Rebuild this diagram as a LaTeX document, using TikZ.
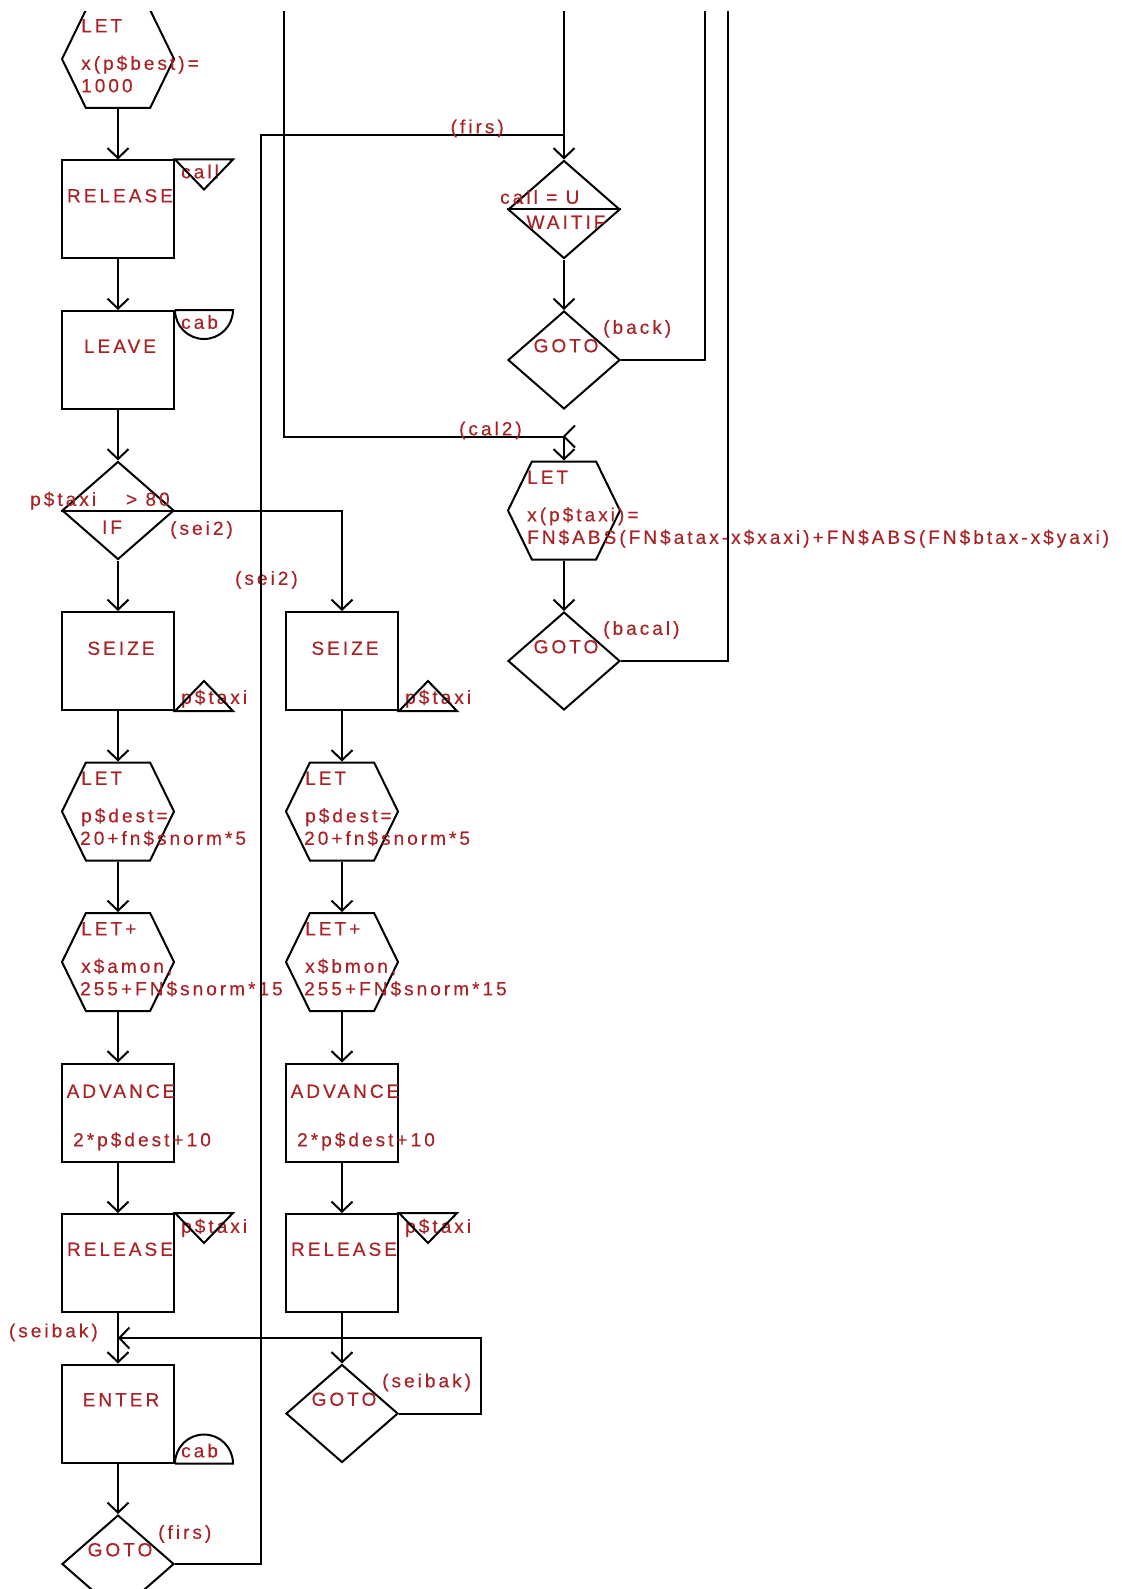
\documentclass[tikz,border=0pt]{standalone}
\usepackage{fontspec}
\newfontfamily\gpssfont{Liberation Sans}[LetterSpace=16, FakeBold=0.4]
\usepackage{tikz}
\usetikzlibrary{arrows.meta,positioning,shapes.geometric,shapes.symbols}
\definecolor{gpred}{HTML}{A82226}

\begin{document}
\begin{tikzpicture}[x=1pt, y=-1pt,
  node distance=50.5pt and 110pt,
  blk/.style={draw, line width=2pt, minimum width=112pt, minimum height=98pt, inner sep=0pt},
  hexa/.style={draw, line width=2pt, signal, signal to=west and east, signal pointer angle=128, minimum width=112pt, minimum height=98pt, inner sep=0pt},
  dia/.style={draw, line width=2pt, diamond, minimum width=112pt, minimum height=98pt, inner sep=0pt},
  txt/.style={text=gpred, font=\gpssfont\fontsize{19}{23}\selectfont, inner sep=0pt, text height=13.6pt, text depth=0pt},
  flow/.style={line width=2pt},
  arrow/.style={flow, -{Straight Barb[length=10pt, width=21pt]}}
]
\useasboundingbox (0,0) rectangle (1121,1589);
\clip (0,12) rectangle (1121,1589);

% left column
\node[hexa] (let1) at (118,59) {};
\node[blk, below=of let1] (rel1) {};
\node[blk, below=of rel1] (leave1) {};
\node[dia, below=of leave1] (if1) {};
\node[blk, below=of if1] (seize1) {};
\node[hexa, below=of seize1] (let2) {};
\node[hexa, below=of let2] (letp1) {};
\node[blk, below=of letp1] (adv1) {};
\node[blk, below=of adv1] (rel2) {};
\node[blk, below=of rel2] (enter1) {};
\node[dia, below=of enter1] (goto1) {};

% sei2 column
\node[blk, right=of seize1] (seize2) {};
\node[hexa, below=of seize2] (let3) {};
\node[hexa, below=of let3] (letp2) {};
\node[blk, below=of letp2] (adv2) {};
\node[blk, below=of adv2] (rel3) {};
\node[dia, below=of rel3] (goto2) {};

% right column
\node[dia, right=332pt of rel1] (waitif) {};
\node[dia, below=of waitif] (goback) {};
\node[hexa, below=of goback] (let4) {};
\node[dia, below=of let4] (gobacal) {};

% texts, left column
\node[txt, anchor=west] (let1a) at ([xshift=-37pt, yshift=33.5pt]let1.center) {LET};
\node[txt, anchor=west] (let1b) at ([xshift=-37pt, yshift=-4pt]let1.center) {x(p\$best)=};
\node[txt, anchor=west] (let1c) at ([xshift=-37pt, yshift=-26.5pt]let1.center) {1000};
\node[txt] (rel1t) at ([xshift=2pt, yshift=14pt]rel1.center) {RELEASE};
\node[txt, anchor=west] (rel1f) at ([xshift=6pt, yshift=-12pt]rel1.north east) {call};
\node[txt] (leave1t) at ([xshift=2pt, yshift=14pt]leave1.center) {LEAVE};
\node[txt, anchor=west] (leave1s) at ([xshift=6pt, yshift=-12pt]leave1.north east) {cab};
\node[txt, anchor=west] (if1a) at ([xshift=-88pt, yshift=11.5pt]if1.center) {p\$taxi\hspace{30pt}> 80};
\node[txt] (if1b) at ([xshift=-6pt, yshift=-16.5pt]if1.center) {IF};
\node[txt, anchor=west] (if1c) at ([xshift=52pt, yshift=-17.5pt]if1.center) {(sei2)};
\node[txt] (seize1t) at ([xshift=3pt, yshift=13pt]seize1.center) {SEIZE};
\node[txt, anchor=west] (seize1f) at ([xshift=6pt, yshift=14pt]seize1.south east) {p\$taxi};
\node[txt, anchor=west] (let2a) at ([xshift=-37pt, yshift=33.5pt]let2.center) {LET};
\node[txt, anchor=west] (let2b) at ([xshift=-37pt, yshift=-4pt]let2.center) {p\$dest=};
\node[txt, anchor=west] (let2c) at ([xshift=-38pt, yshift=-26.5pt]let2.center) {20+fn\$snorm*5};
\node[txt, anchor=west] (letp1a) at ([xshift=-37pt, yshift=33.5pt]letp1.center) {LET+};
\node[txt, anchor=west] (letp1b) at ([xshift=-37pt, yshift=-4pt]letp1.center) {x\$amon,};
\node[txt, anchor=west] (letp1c) at ([xshift=-38pt, yshift=-26.5pt]letp1.center) {255+FN\$snorm*15};
\node[txt] (adv1t) at ([xshift=3pt, yshift=21.5pt]adv1.center) {ADVANCE};
\node[txt, anchor=west] (adv1o) at ([xshift=-45pt, yshift=-27pt]adv1.center) {2*p\$dest+10};
\node[txt] (rel2t) at ([xshift=2pt, yshift=14pt]rel2.center) {RELEASE};
\node[txt, anchor=west] (rel2f) at ([xshift=6pt, yshift=-13pt]rel2.north east) {p\$taxi};
\node[txt, anchor=east] (sbl1) at ([xshift=-20pt, yshift=33pt]enter1.north) {(seibak)};
\node[txt] (enter1t) at ([xshift=3pt, yshift=14pt]enter1.center) {ENTER};
\node[txt, anchor=west] (enter1s) at ([xshift=6pt, yshift=13pt]enter1.south east) {cab};
\node[txt] (goto1t) at ([xshift=2pt, yshift=14.5pt]goto1.center) {GOTO};
\node[txt, anchor=west] (goto1l) at ([xshift=40pt, yshift=32pt]goto1.center) {(firs)};

% texts, sei2 column
\node[txt, anchor=east] (sei2l) at ([xshift=-44pt, yshift=33pt]seize2.north) {(sei2)};
\node[txt] (seize2t) at ([xshift=3pt, yshift=13pt]seize2.center) {SEIZE};
\node[txt, anchor=west] (seize2f) at ([xshift=6pt, yshift=14pt]seize2.south east) {p\$taxi};
\node[txt, anchor=west] (let3a) at ([xshift=-37pt, yshift=33.5pt]let3.center) {LET};
\node[txt, anchor=west] (let3b) at ([xshift=-37pt, yshift=-4pt]let3.center) {p\$dest=};
\node[txt, anchor=west] (let3c) at ([xshift=-38pt, yshift=-26.5pt]let3.center) {20+fn\$snorm*5};
\node[txt, anchor=west] (letp2a) at ([xshift=-37pt, yshift=33.5pt]letp2.center) {LET+};
\node[txt, anchor=west] (letp2b) at ([xshift=-37pt, yshift=-4pt]letp2.center) {x\$bmon,};
\node[txt, anchor=west] (letp2c) at ([xshift=-38pt, yshift=-26.5pt]letp2.center) {255+FN\$snorm*15};
\node[txt] (adv2t) at ([xshift=3pt, yshift=21.5pt]adv2.center) {ADVANCE};
\node[txt, anchor=west] (adv2o) at ([xshift=-45pt, yshift=-27pt]adv2.center) {2*p\$dest+10};
\node[txt] (rel3t) at ([xshift=2pt, yshift=14pt]rel3.center) {RELEASE};
\node[txt, anchor=west] (rel3f) at ([xshift=6pt, yshift=-13pt]rel3.north east) {p\$taxi};
\node[txt] (goto2t) at ([xshift=2pt, yshift=14.5pt]goto2.center) {GOTO};
\node[txt, anchor=west] (goto2l) at ([xshift=40pt, yshift=33pt]goto2.center) {(seibak)};

% texts, right column
\node[txt, anchor=west] (waitifa) at ([xshift=-64pt, yshift=12.5pt]waitif.center) {call = U};
\node[txt] (waitifb) at ([xshift=2pt, yshift=-12.5pt]waitif.center) {WAITIF};
\node[txt] (gobackt) at ([xshift=2pt, yshift=14.5pt]goback.center) {GOTO};
\node[txt, anchor=west] (backl) at ([xshift=39pt, yshift=33pt]goback.center) {(back)};
\node[txt, anchor=west] (let4a) at ([xshift=-37pt, yshift=33.5pt]let4.center) {LET};
\node[txt, anchor=west] (let4b) at ([xshift=-37pt, yshift=-4pt]let4.center) {x(p\$taxi)=};
\node[txt, anchor=west] (let4c) at ([xshift=-37pt, yshift=-26.5pt]let4.center) {FN\$ABS(FN\$atax-x\$xaxi)+FN\$ABS(FN\$btax-x\$yaxi)};
\node[txt] (gobacalt) at ([xshift=2pt, yshift=14.5pt]gobacal.center) {GOTO};
\node[txt, anchor=west] (bacall) at ([xshift=39pt, yshift=33pt]gobacal.center) {(bacal)};

% facility and storage marks
\draw[flow] (rel1.north east) -- ++(58,0) -- ++(-29,30) -- cycle;
\draw[flow] (leave1.north east) -- ++(58,0) arc[start angle=0, end angle=-180, radius=29pt];
\draw[flow] (seize1.south east) -- ++(58,0) -- ++(-29,-30) -- cycle;
\draw[flow] (rel2.north east) -- ++(58,0) -- ++(-29,30) -- cycle;
\draw[flow] (enter1.south east) -- ++(58,0) arc[start angle=0, end angle=180, radius=29pt];
\draw[flow] (seize2.south east) -- ++(58,0) -- ++(-29,-30) -- cycle;
\draw[flow] (rel3.north east) -- ++(58,0) -- ++(-29,30) -- cycle;

% flow, left column
\draw[arrow] (let1) -- (rel1);
\draw[arrow] (rel1) -- (leave1);
\draw[arrow] (leave1) -- (if1);
\draw[flow] (if1.west) -- (if1.east);
\draw[arrow] (if1) -- (seize1);
\draw[arrow] (seize1) -- (let2);
\draw[arrow] (let2) -- (letp1);
\draw[arrow] (letp1) -- (adv1);
\draw[arrow] (adv1) -- (rel2);
\draw[arrow] (rel2) -- (enter1);
\draw[arrow] (enter1) -- (goto1);

% flow, sei2 column
\draw[arrow] (if1.east) -| (seize2.north);
\draw[arrow] (seize2) -- (let3);
\draw[arrow] (let3) -- (letp2);
\draw[arrow] (letp2) -- (adv2);
\draw[arrow] (adv2) -- (rel3);
\draw[arrow] (rel3) -- (goto2);
\coordinate (sbj) at ([yshift=-25pt]rel2.south);
\draw[arrow] (goto2.east) -- ++(82,0) |- (sbj);

% flow, right column
\coordinate (waittop) at ([yshift=200pt]waitif.north);
\coordinate (firsj) at ([yshift=24pt]waitif.north);
\draw[arrow] (waittop) -- (waitif);
\draw[flow] (goto1.east) -- ++(86,0) |- (firsj);
\node[txt, anchor=east] (firsl) at ([xshift=-60pt, yshift=9pt]firsj) {(firs)};
\draw[flow] (waitif.west) -- (waitif.east);
\draw[arrow] (waitif) -- (goback);
\coordinate (backtop) at ([xshift=84pt, yshift=400pt]goback.east);
\draw[flow] (goback.east) -| (backtop);
\coordinate (cal2j) at ([yshift=24pt]let4.north);
\coordinate (cal2top) at ([xshift=-280pt, yshift=480pt]let4.north);
\draw[flow] (cal2top) |- (cal2j);
\draw[arrow] (cal2j) -- (let4);
\draw[flow] (cal2j) -- ++(11,-11) (cal2j) -- ++(11,11);
\node[txt, anchor=east] (cal2l) at ([xshift=-42pt, yshift=8pt]cal2j) {(cal2)};
\draw[arrow] (let4) -- (gobacal);
\coordinate (bacaltop) at ([xshift=107pt, yshift=700pt]gobacal.east);
\draw[flow] (gobacal.east) -| (bacaltop);
\end{tikzpicture}
\end{document}
